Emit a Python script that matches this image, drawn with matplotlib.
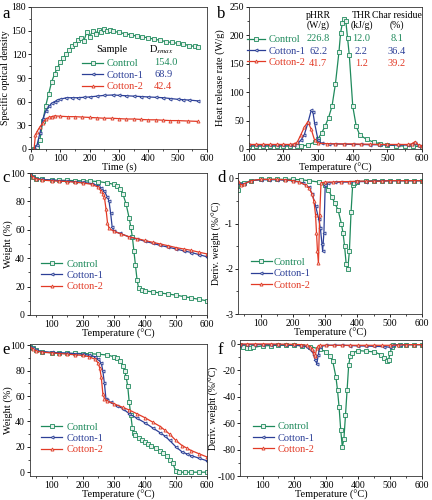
import numpy as np
import matplotlib.pyplot as plt
from matplotlib.ticker import MultipleLocator

plt.rcParams['font.family'] = ['Liberation Serif', 'DejaVu Serif']
plt.rcParams['mathtext.fontset'] = 'stix'
plt.rcParams['font.size'] = 7
plt.rcParams['axes.unicode_minus'] = False

# Colours and sample names
green = '#1f8a5c'
blue = '#2c3f97'
red = '#e23a26'
names = ['Control', 'Cotton-1', 'Cotton-2']
colors = [green, blue, red]
markers = ['s', '<', '^']

# (a) Smoke density
t_ctrl = [10, 20, 30, 40, 50, 60, 70, 80, 90, 100, 110, 120, 130, 140, 150, 160,
          170, 180, 190, 200, 210, 220, 230, 240, 250, 260, 270, 280, 300, 320,
          340, 360, 380, 400, 420, 440, 460, 480, 500, 520, 540, 560, 570]
sod_ctrl = [0, 3, 12, 35, 55, 70, 85, 95, 103, 110, 115, 121, 125, 131, 133, 138,
            141, 137, 148, 142, 150, 146, 151, 148, 152, 149, 151, 149, 148, 146,
            145, 143, 142, 141, 139, 138, 136, 135, 134, 133, 131, 130, 129]
t_c1 = [10, 20, 30, 40, 50, 60, 70, 80, 90, 100, 120, 140, 160, 180, 200, 225,
        250, 280, 300, 325, 350, 375, 400, 425, 450, 475, 500, 520, 540, 570]
sod_c1 = [0, 5, 20, 38, 48, 54, 58, 60, 62, 63, 65, 65, 65, 65.5, 66, 67, 68,
          68.5, 68, 67.5, 67, 66.5, 66, 65.5, 65, 64, 63, 62.5, 62, 61]
t_c2 = [10, 15, 20, 30, 40, 50, 60, 70, 80, 100, 125, 150, 175, 200, 225, 250,
        275, 300, 325, 350, 375, 400, 425, 450, 475, 500, 535, 570]
sod_c2 = [0, 18, 22, 28, 33, 38, 40, 41, 42, 41.5, 41, 41, 40.5, 40, 39.5, 39,
          39, 38.5, 38, 38, 37.5, 37, 37, 36.5, 36, 36, 35.5, 35]
dsmax = ['154.0', '68.9', '42.4']

# (b) Heat release rate
T_hrr_ctrl = [100, 120, 140, 160, 180, 200, 220, 240, 250, 270, 290, 300, 310,
              320, 330, 340, 350, 360, 365, 370, 375, 380, 385, 390, 400, 410,
              420, 440, 460, 480, 500, 525, 550, 575, 600]
hrr_ctrl = [5, 5, 5, 5, 5, 5, 5, 5, 5, 7, 12, 18, 28, 40, 55, 75, 115, 170, 205,
            222, 229, 225, 195, 165, 75, 40, 25, 17, 12, 9, 7, 6, 5, 5, 4]
T_hrr_c1 = [100, 120, 140, 160, 180, 200, 220, 230, 240, 250, 260, 270, 280, 285,
            290, 300, 310, 330, 350, 375, 400, 425, 450, 475, 500, 530, 560, 570,
            580, 590, 600]
hrr_c1 = [7, 7, 7, 7, 7, 7, 7, 7, 10, 15, 25, 45, 68, 65, 45, 15, 10, 9, 9, 8.5,
          8, 8, 7.5, 7.5, 7, 7, 7, 8, 10, 6, 5]
T_hrr_c2 = [100, 120, 140, 160, 180, 200, 220, 230, 240, 250, 260, 270, 280, 290,
            300, 325, 350, 375, 400, 425, 450, 475, 500, 530, 560, 570, 580, 590,
            600]
hrr_c2 = [8, 8, 8, 8, 8, 8, 8, 9, 12, 25, 38, 48, 35, 15, 10, 9.5, 9, 9, 9, 8.5,
          8.5, 8, 8, 8, 8, 9, 13, 7, 6]
phrr = ['226.8', '62.2', '41.7']
thr = ['12.0', '2.2', '1.2']
char = ['8.1', '36.4', '39.2']

# (c) TGA weight, first condition
T_c_ctrl = [30, 40, 50, 70, 100, 125, 150, 175, 200, 225, 250, 280, 300, 310,
            320, 330, 340, 350, 355, 360, 365, 370, 375, 380, 390, 400, 425, 450,
            475, 500, 525, 550, 575, 600]
w_c_ctrl = [99, 97.5, 96, 95.5, 95, 94.9, 94.8, 94.6, 94.5, 94.3, 94, 93, 92,
            90.5, 89, 85, 78, 68, 62, 55, 45, 35, 25, 19, 17.5, 17, 16.3, 15.5,
            14.8, 14, 13, 12, 11, 10]
T_c_c1 = [30, 40, 50, 70, 100, 125, 150, 175, 200, 230, 250, 260, 270, 280, 285,
          290, 295, 300, 320, 350, 375, 400, 425, 450, 475, 500, 525, 550, 575,
          600]
w_c_c1 = [99, 97.5, 96, 95.5, 95, 94.6, 94.3, 93.9, 93.5, 92.5, 91, 89.5, 87,
          83, 80, 72, 62, 59, 57.5, 55, 53.5, 52, 50.5, 49, 47.8, 46.5, 45.2, 44,
          42.5, 41]
T_c_c2 = [30, 40, 50, 70, 100, 125, 150, 175, 200, 230, 250, 260, 265, 270, 275,
          280, 285, 300, 325, 350, 375, 400, 425, 450, 475, 500, 525, 550, 575,
          600]
w_c_c2 = [99, 97, 96, 95, 94.5, 94.2, 94, 93.5, 93, 92, 90, 87, 85.5, 83, 75,
          65, 61, 59, 57, 55, 53.8, 52.5, 51.2, 50, 48.8, 47.5, 46.5, 45.5, 44.2,
          43]

# (d) DTG, first condition
T_d_ctrl = [30, 40, 50, 70, 100, 125, 150, 175, 200, 225, 250, 280, 300, 310,
            320, 330, 340, 350, 355, 360, 365, 370, 375, 380, 385, 390, 400, 425,
            450, 475, 500, 525, 550, 575, 600]
d_d_ctrl = [-0.25, -0.12, -0.1, -0.05, -0.02, -0.02, -0.02, -0.02, -0.02, -0.03,
            -0.05, -0.08, -0.15, -0.25, -0.4, -0.55, -0.7, -1.0, -1.2, -1.5,
            -1.9, -2.0, -1.6, -0.75, -0.15, -0.1, -0.07, -0.06, -0.05, -0.05,
            -0.05, -0.05, -0.05, -0.05, -0.05]
T_d_c1 = [30, 40, 50, 70, 100, 125, 150, 175, 200, 230, 250, 260, 270, 280, 285,
          290, 292, 296, 300, 310, 330, 350, 375, 400, 425, 450, 475, 500, 525,
          550, 575, 600]
d_d_c1 = [-0.1, -0.12, -0.12, -0.05, -0.03, -0.03, -0.03, -0.04, -0.05, -0.1,
          -0.2, -0.35, -0.6, -0.9, -1.1, -1.45, -1.6, -1.2, -0.15, -0.1, -0.09,
          -0.08, -0.08, -0.07, -0.07, -0.06, -0.06, -0.05, -0.05, -0.05, -0.05,
          -0.05]
T_d_c2 = [30, 40, 50, 70, 100, 125, 150, 175, 200, 220, 240, 250, 260, 265, 270,
          273, 276, 279, 283, 287, 300, 325, 350, 375, 400, 425, 450, 475, 500,
          525, 550, 575, 600]
d_d_c2 = [-0.05, -0.15, -0.12, -0.05, -0.02, -0.02, -0.02, -0.03, -0.05, -0.08,
          -0.15, -0.22, -0.35, -0.5, -0.8, -1.2, -1.6, -1.88, -0.8, -0.1, -0.08,
          -0.08, -0.07, -0.07, -0.06, -0.06, -0.06, -0.06, -0.05, -0.05, -0.05,
          -0.05, -0.05]

# (e) TGA weight, second condition
T_e_ctrl = [30, 40, 50, 70, 100, 125, 150, 175, 200, 225, 250, 280, 300, 310,
            320, 330, 335, 340, 345, 350, 355, 360, 365, 370, 380, 390, 400, 410,
            420, 435, 450, 460, 470, 480, 490, 500, 510, 530, 550, 575, 600]
w_e_ctrl = [99, 97.5, 96, 95, 94, 93.8, 93.7, 93.6, 93.5, 93.3, 93, 92.3, 91, 90,
            88, 84, 80, 75, 68, 55, 45, 35, 31, 29, 27, 25.5, 24, 22.5, 21, 19,
            17, 15, 13, 10, 7, 1, 0, 0, 0, 0, 0]
T_e_c1 = [30, 40, 50, 70, 100, 125, 150, 175, 200, 220, 240, 250, 260, 265, 270,
          275, 280, 290, 310, 330, 350, 375, 400, 425, 450, 465, 480, 500, 520,
          535, 550, 575, 600]
w_e_c1 = [99, 97.5, 96, 95, 94.5, 94.1, 93.8, 93.4, 93, 92.2, 91, 89, 86, 80,
          70, 58, 56.5, 55, 52.5, 50, 46, 42.5, 39, 35, 31, 28.5, 25, 20, 16,
          14.5, 13, 11, 9]
T_e_c2 = [30, 40, 50, 70, 100, 125, 150, 175, 200, 220, 240, 250, 255, 260, 265,
          270, 280, 300, 330, 350, 375, 400, 425, 450, 465, 480, 500, 520, 535,
          550, 575, 600]
w_e_c2 = [99, 97, 95.5, 94.5, 94, 93.5, 93, 92.5, 92, 91, 89, 86, 82, 75, 62,
          58, 56, 54, 51, 49, 46, 43, 39.5, 36, 33, 30, 25, 21, 19, 17, 14.5, 12]

# (f) DTG, second condition
T_f_ctrl = [30, 40, 50, 60, 70, 100, 125, 150, 175, 200, 225, 250, 280, 300, 310,
            320, 330, 335, 340, 345, 350, 355, 360, 365, 370, 375, 380, 400, 425,
            450, 470, 480, 490, 495, 500, 505, 510, 530, 550, 575, 600]
d_f_ctrl = [-1, -2, -3, -3, -2.5, -1.5, -1.2, -1, -1, -1, -1.5, -2, -4, -6, -9,
            -13, -25, -35, -48, -65, -78, -72, -54, -35, -16, -9, -7, -5, -5.5,
            -6, -8, -11, -13, -12, -7, -2, -0.5, -0.5, -0.5, -0.5, -0.5]
T_f_c1 = [30, 50, 75, 100, 125, 150, 175, 200, 220, 240, 250, 255, 260, 265, 270,
          275, 280, 300, 325, 350, 375, 400, 425, 450, 480, 500, 510, 530, 550,
          575, 600]
d_f_c1 = [-0.5, -0.5, -0.5, -0.5, -0.5, -0.6, -0.7, -0.8, -1.2, -2, -3.5, -5,
          -8, -12, -15, -8, -2, -1, -1, -1, -1.2, -1.5, -1.6, -1.8, -2, -2.5, -1,
          -0.6, -0.5, -0.5, -0.5]
T_f_c2 = [30, 50, 75, 100, 125, 150, 175, 200, 220, 240, 250, 255, 260, 263, 266,
          270, 275, 280, 300, 325, 350, 375, 400, 425, 450, 475, 500, 525, 550,
          575, 600]
d_f_c2 = [0, 0, 0, 0, 0, -0.1, -0.2, -0.3, -0.5, -1, -2.5, -4, -7, -9, -8, -3,
          -1.5, -1, -1, -1, -1, -1, -1, -1, -1, -1, -1, -0.8, -0.6, -0.5, -0.5]


def style_axes(ax, xlim, xmaj, ylim, ymaj):
    ax.set_xlim(*xlim)
    ax.set_ylim(*ylim)
    ax.xaxis.set_major_locator(MultipleLocator(xmaj))
    ax.xaxis.set_minor_locator(MultipleLocator(xmaj / 2))
    ax.yaxis.set_major_locator(MultipleLocator(ymaj))
    ax.yaxis.set_minor_locator(MultipleLocator(ymaj / 2))
    ax.tick_params(which='both', direction='out', top=False, right=False,
                   labelsize=7, pad=1)
    ax.tick_params(which='major', length=2.5, width=0.6)
    ax.tick_params(which='minor', length=1.5, width=0.5)
    for s in ax.spines.values():
        s.set_linewidth(0.6)
        s.set_color('#333333')


def draw(ax, xs, ys):
    for x, y, c, m, n in zip(xs, ys, colors, markers, names):
        ax.plot(x, y, color=c, marker=m, ms=2.2, mfc='#e8f0ec', mec=c,
                mew=0.6, lw=0.9, label=n)


def legend(ax, loc, hl=2.0, tp=0.4):
    ax.legend(loc='center left', bbox_to_anchor=loc, frameon=False,
              labelcolor='linecolor', fontsize=7.5, handlelength=hl,
              handletextpad=tp, labelspacing=0.2, borderaxespad=0,
              borderpad=0)


def labels(ax, xl, yl, ylx, ysize=7.5):
    ax.set_xlabel(xl, fontsize=7.5, labelpad=0)
    ax.set_ylabel(yl, fontsize=ysize)
    ax.yaxis.set_label_coords(ylx, 0.5)


fig = plt.figure(figsize=(4.32, 5.0), dpi=100)
temp = 'Temperature (\u00b0C)'
deriv = 'Deriv. weight (%/\u00b0C)'

# Panel a
ax = fig.add_axes([0.072, 0.702, 0.407, 0.284])
draw(ax, [t_ctrl, t_c1, t_c2], [sod_ctrl, sod_c1, sod_c2])
style_axes(ax, (0, 600), 100, (0, 180), 30)
labels(ax, 'Time (s)', 'Specific optical density', -0.118, ysize=7.2)
legend(ax, (0.29, 0.52))
ax.text(0.37, 0.70, 'Sample', transform=ax.transAxes, fontsize=7.5,
        va='center')
ax.text(0.67, 0.70, r'D$_{\mathit{smax}}$', transform=ax.transAxes,
        fontsize=7.5, va='center')
for i, v in enumerate(dsmax):
    ax.text(0.70, 0.606 - i * 0.084, v, transform=ax.transAxes, fontsize=7.5,
            color=colors[i], va='center')

# Panel b
ax = fig.add_axes([0.576, 0.702, 0.401, 0.284])
draw(ax, [T_hrr_ctrl, T_hrr_c1, T_hrr_c2], [hrr_ctrl, hrr_c1, hrr_c2])
style_axes(ax, (100, 600), 100, (0, 250), 50)
labels(ax, temp, 'Heat release rate (W/g)', -0.135)
legend(ax, (-0.01, 0.69), hl=1.7, tp=0.4)
cols = [0.40, 0.65, 0.855]
headers = ['pHRR\n(W/g)', 'THR\n(kJ/g)', 'Char residue\n(%)']
for h, xp in zip(headers, cols):
    ax.text(xp, 0.975, h, transform=ax.transAxes, fontsize=7, ha='center',
            va='top', linespacing=1.15)
for i in range(3):
    yp = 0.775 - i * 0.085
    for v, xp in zip([phrr[i], thr[i], char[i]], cols):
        ax.text(xp, yp, v, transform=ax.transAxes, fontsize=7.5, ha='center',
                va='center', color=colors[i])

# Panel c
ax = fig.add_axes([0.069, 0.370, 0.41, 0.284])
draw(ax, [T_c_ctrl, T_c_c1, T_c_c2], [w_c_ctrl, w_c_c1, w_c_c2])
style_axes(ax, (30, 600), 100, (0, 100), 20)
labels(ax, temp, 'Weight (%)', -0.095)
legend(ax, (0.065, 0.28))

# Panel d
ax = fig.add_axes([0.551, 0.372, 0.426, 0.282])
draw(ax, [T_d_ctrl, T_d_c1, T_d_c2], [d_d_ctrl, d_d_c1, d_d_c2])
style_axes(ax, (30, 600), 100, (-3, 0.12), 1)
labels(ax, temp, deriv, -0.085, ysize=7)
legend(ax, (0.07, 0.285), tp=0.2)

# Panel e
ax = fig.add_axes([0.069, 0.048, 0.41, 0.264])
draw(ax, [T_e_ctrl, T_e_c1, T_e_c2], [w_e_ctrl, w_e_c1, w_e_c2])
style_axes(ax, (30, 600), 100, (-3, 101), 20)
labels(ax, temp, 'Weight (%)', -0.095)
legend(ax, (0.065, 0.285))

# Panel f
ax = fig.add_axes([0.556, 0.048, 0.421, 0.272])
draw(ax, [T_f_ctrl, T_f_c1, T_f_c2], [d_f_ctrl, d_f_c1, d_f_c2])
style_axes(ax, (30, 600), 100, (-100, 3), 20)
labels(ax, temp, deriv, -0.115, ysize=7)
legend(ax, (0.07, 0.28))

# Panel letters
for lab, xp, yp in [('a', 0.005, 0.965), ('b', 0.503, 0.965),
                    ('c', 0.005, 0.635), ('d', 0.503, 0.635),
                    ('e', 0.005, 0.292), ('f', 0.503, 0.292)]:
    fig.text(xp, yp, lab, fontsize=12)

fig.savefig('out.png', dpi=100)
